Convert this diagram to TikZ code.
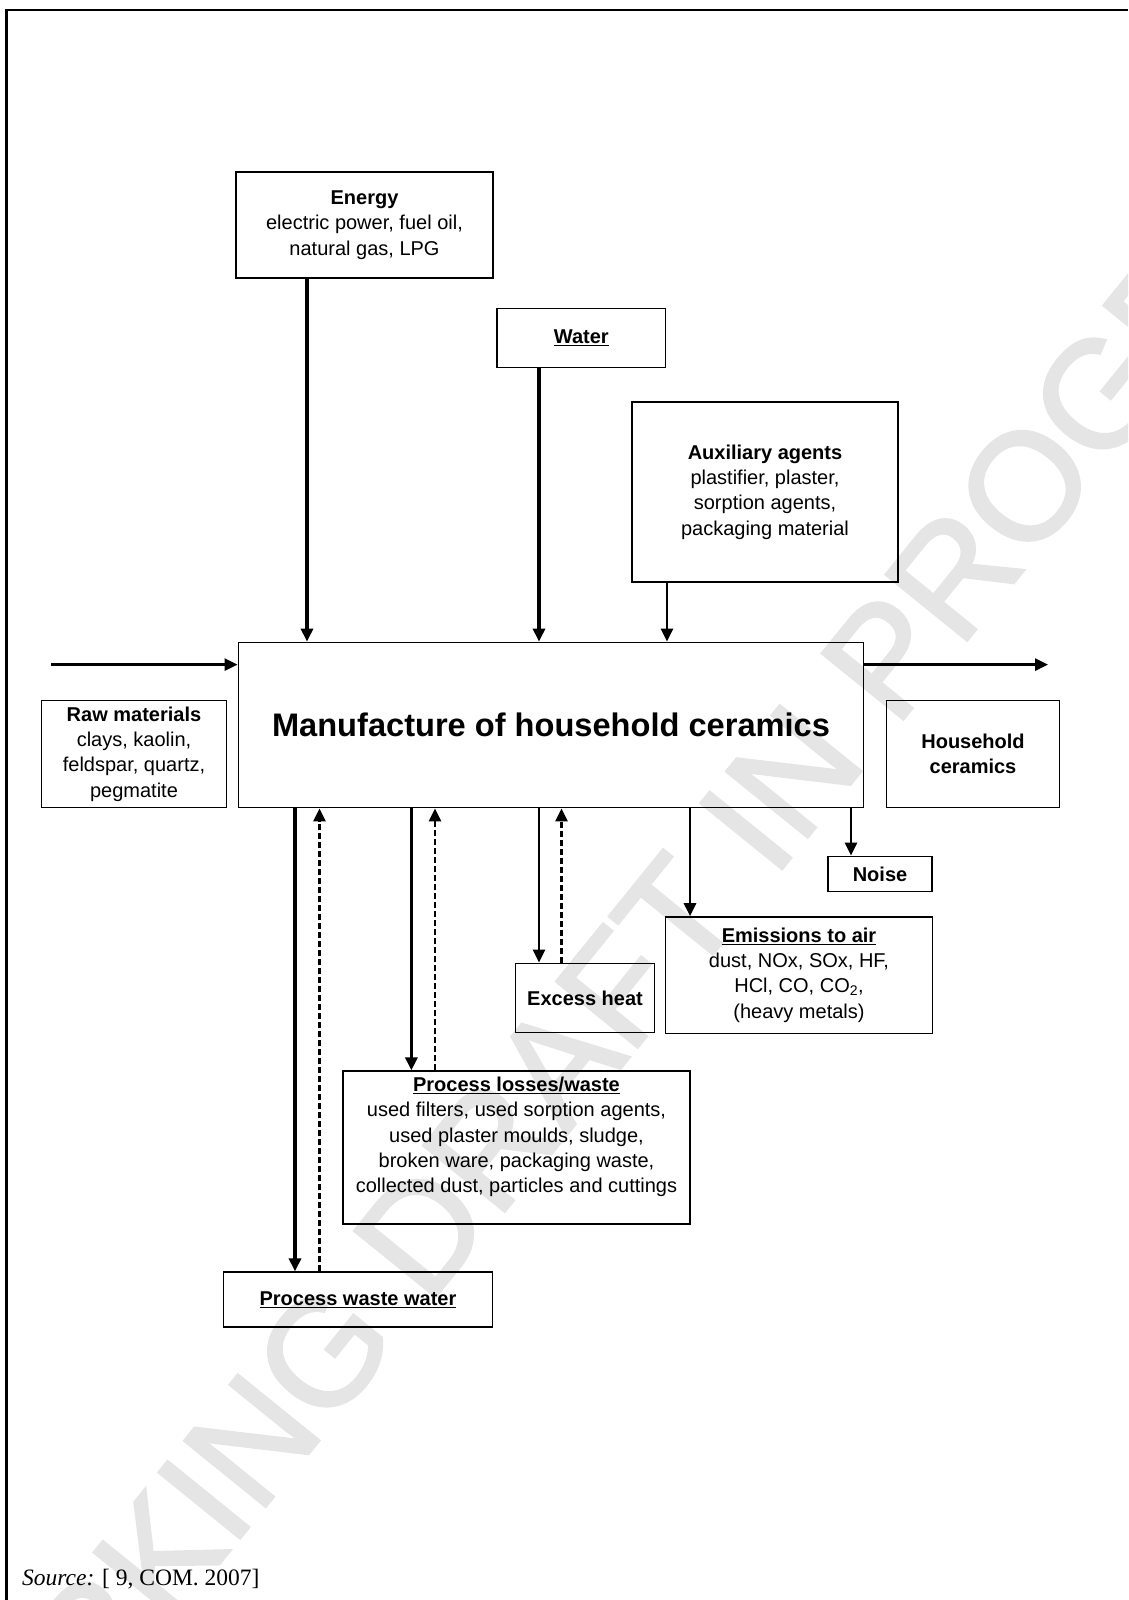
\documentclass[tikz,border=0pt]{standalone}
\usepackage{fontspec}
\setmainfont{Liberation Sans}
\newfontfamily\srcfont{Liberation Serif}
\newfontfamily\markfont[FakeBold=1.8]{Liberation Sans}
\usetikzlibrary{arrows.meta}

\begin{document}
\begin{tikzpicture}[
    x=1pt, y=-1pt,
    every node/.style = {font=\fontsize{20}{25.3}\selectfont, align=center, inner sep=0pt},
    box/.style = {draw, line width=1.3pt},
    feed/.style = {line width=2.7pt, -{Triangle[length=13pt, width=12pt]}},
    heavy/.style = {feed, line width=3.3pt},
    recycle/.style = {feed, line width=2.3pt, dash pattern=on 6pt off 3pt}
]
    \useasboundingbox (0,0) rectangle (1128,1600);

    % watermark behind everything
    \begin{scope}
        \clip (0,0) rectangle (1128,1600);
        \node (draft) [rotate=51, text=black!10, font=\markfont\fontsize{152}{152}\selectfont] at (645,955) {WORKING DRAFT IN PROGRESS};
    \end{scope}

    \draw [line width=2.5pt] (6.5,1600) -- (6.5,10) -- (1128,10);

    % inputs
    \node (energy) [box, minimum width=257pt, minimum height=106pt] at (364.5,225)
        {\textbf{Energy}\\ electric power, fuel oil,\\ natural gas, LPG};
    \node (water) [box, minimum width=168.6pt, minimum height=59.5pt] at (581.3,338)
        {\textbf{\underline{Water}}};
    \node (aux) [box, minimum width=266pt, minimum height=180pt] at (765,492)
        {\textbf{Auxiliary agents}\\ plastifier, plaster,\\ sorption agents,\\ packaging material};
    \node (raw) [box, minimum width=185.6pt, minimum height=107.5pt] at (134,754)
        {\textbf{Raw materials}\\ clays, kaolin,\\ feldspar, quartz,\\ pegmatite};

    \node (main) [box, minimum width=625.6pt, minimum height=165.5pt,
        font=\fontsize{32.6}{38}\selectfont\bfseries] at (551,725)
        {Manufacture of household ceramics};

    % outputs
    \node (product) [box, minimum width=173.6pt, minimum height=107.5pt, font=\fontsize{20}{25.3}\selectfont\bfseries] at (973,754)
        {Household\\ ceramics};
    \node (noise) [box, minimum width=104pt, minimum height=35.5pt, font=\fontsize{20}{25.3}\selectfont\bfseries] at (880,874)
        {Noise};
    \node (air) [box, minimum width=266.4pt, minimum height=116.3pt] at (799,975)
        {\textbf{\underline{Emissions to air}}\\ dust, NOx, SOx, HF,\\ HCl, CO, CO\textsubscript{2},\\ (heavy metals)};
    \node (heat) [box, minimum width=138.8pt, minimum height=69.4pt, font=\fontsize{20}{25.3}\selectfont\bfseries] at (585,998)
        {Excess heat};
    \node (losses) [box, minimum width=347pt, minimum height=153pt] at (516.5,1147.5)
        {\textbf{\underline{Process losses/waste}}\\ used filters, used sorption agents,\\ used plaster moulds, sludge,\\ broken ware, packaging waste,\\ collected dust, particles and cuttings\\ \mbox{}};
    \node (wastewater) [box, minimum width=269.5pt, minimum height=55pt] at (358,1299.5)
        {\textbf{\underline{Process waste water}}};

    \node (source) [anchor=west, font=\srcfont\fontsize{23.5}{28}\selectfont] at (22,1579)
        {\textit{Source:} [ 9, COM. 2007]};

    \coordinate (in) at (51,664.6);
    \coordinate (out) at (1048,664.6);

    \draw [heavy] (energy.south -| 307,0) -- (main.north -| 307,0);
    \draw [heavy] (water.south -| 539,0) -- (main.north -| 539,0);
    \draw [feed] (aux.south -| 667,0) -- (main.north -| 667,0);
    \draw [feed] (in) -- (in -| main.west);
    \draw [feed] (main.east |- out) -- (out);

    \draw [feed] (main.south -| 851,0) -- (noise.north -| 851,0);
    \draw [feed] (main.south -| 690,0) -- (air.north -| 690,0);
    \draw [feed] (main.south -| 539,0) -- (heat.north -| 539,0);
    \draw [recycle] (heat.north -| 561.5,0) -- (main.south -| 561.5,0);
    \draw [heavy] (main.south -| 411.4,0) -- (losses.north -| 411.4,0);
    \draw [recycle] (losses.north -| 435,0) -- (main.south -| 435,0);
    \draw [heavy] (main.south -| 295,0) -- (wastewater.north -| 295,0);
    \draw [recycle] (wastewater.north -| 319.5,0) -- (main.south -| 319.5,0);
\end{tikzpicture}
\end{document}
